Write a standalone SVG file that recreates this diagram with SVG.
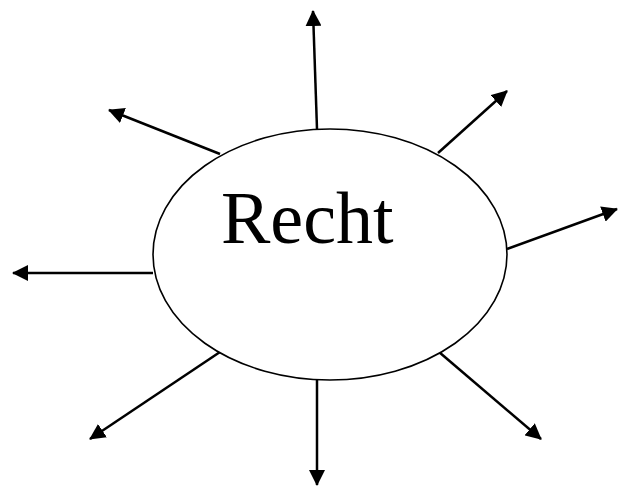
<svg xmlns="http://www.w3.org/2000/svg" width="626" height="486" viewBox="0 0 626 486">
<style>
.c{stroke:#000;stroke-width:2.5;fill:none}
.n{fill:#fff;stroke:#000;stroke-width:1.6}
.t{font-family:"Liberation Serif","Times New Roman",serif;font-size:74px;fill:#000}
</style>
<defs>
<marker id="ah" markerUnits="userSpaceOnUse" markerWidth="16" markerHeight="16" viewBox="0 0 16 16" refX="15" refY="8" orient="auto">
<path d="M0,0 L16,8 L0,16 Z" fill="#000"/>
</marker>
</defs>
<g id="connectors">
<line class="c" x1="317" y1="129" x2="313" y2="11" marker-end="url(#ah)"/>
<line class="c" x1="438" y1="153" x2="507" y2="91" marker-end="url(#ah)"/>
<line class="c" x1="507" y1="249" x2="617" y2="209" marker-end="url(#ah)"/>
<line class="c" x1="153" y1="273" x2="13" y2="273" marker-end="url(#ah)"/>
<line class="c" x1="220" y1="154" x2="109" y2="110" marker-end="url(#ah)"/>
<line class="c" x1="220" y1="352" x2="90" y2="439" marker-end="url(#ah)"/>
<line class="c" x1="439" y1="352" x2="541" y2="439" marker-end="url(#ah)"/>
<line class="c" x1="317" y1="380" x2="317" y2="485" marker-end="url(#ah)"/>
</g>
<g id="recht">
<ellipse class="n" cx="330" cy="254.5" rx="177" ry="125.5"/>
<text class="t" x="221" y="243">Recht</text>
</g>
</svg>
